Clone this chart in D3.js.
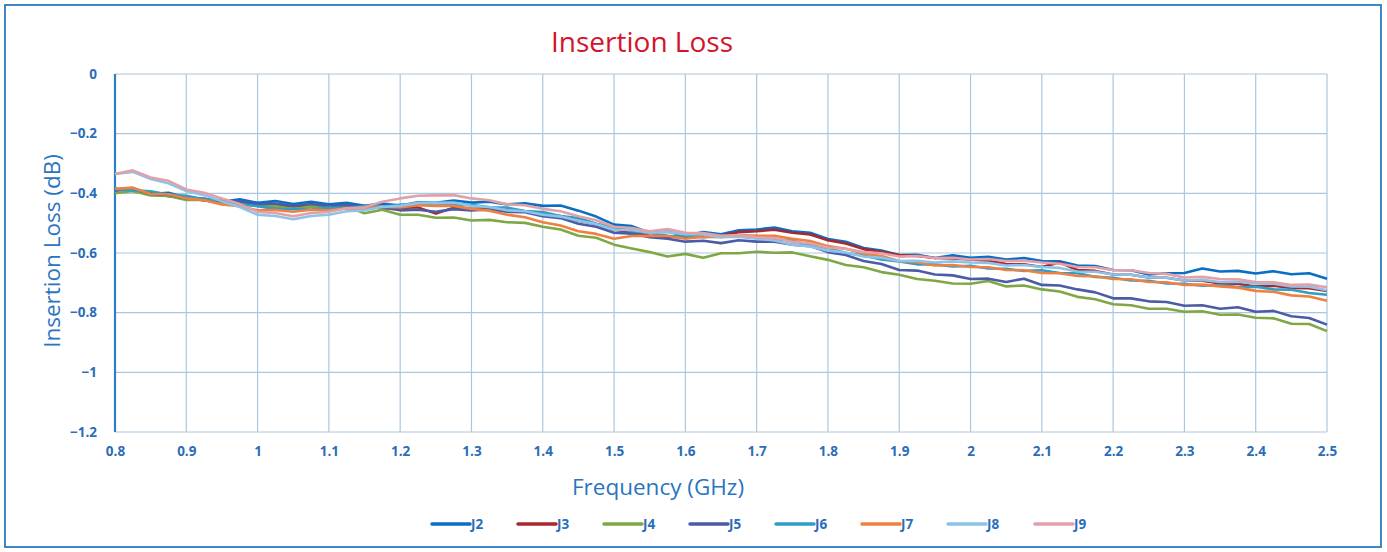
<!DOCTYPE html>
<html><head><meta charset="utf-8">
<script src="https://cdn.jsdelivr.net/npm/d3@7"></script>
<style>
html,body{margin:0;padding:0;background:#fff;}
svg{display:block;}
</style>
</head><body>
<svg id="chart" width="1387" height="552"></svg>
<script>
// ---------- DATA ----------
const freqStart = 0.8, freqStep = 0.025; // GHz, sample spacing of the arrays below
const seriesNames = ["J2","J3","J4","J5","J6","J7","J8","J9"];
const seriesColors = ["#0a6fc4","#a8282f","#7fa845","#4a5ca6","#2e9ec4","#ee8142","#8cc3e9","#e2a0a8"];
const xTicks = [0.8,0.9,1,1.1,1.2,1.3,1.4,1.5,1.6,1.7,1.8,1.9,2,2.1,2.2,2.3,2.4,2.5];
const yTicks = [0,-0.2,-0.4,-0.6,-0.8,-1,-1.2];

const J2 = [-0.390,-0.383,-0.402,-0.398,-0.415,-0.418,-0.428,-0.420,-0.432,-0.426,-0.436,-0.428,-0.437,-0.432,-0.442,-0.434,-0.441,-0.430,-0.432,-0.424,-0.431,-0.428,-0.437,-0.433,-0.442,-0.441,-0.458,-0.478,-0.505,-0.510,-0.532,-0.528,-0.542,-0.530,-0.537,-0.524,-0.521,-0.515,-0.527,-0.532,-0.553,-0.562,-0.583,-0.592,-0.607,-0.606,-0.617,-0.608,-0.616,-0.613,-0.622,-0.617,-0.627,-0.628,-0.642,-0.644,-0.657,-0.658,-0.672,-0.668,-0.667,-0.652,-0.662,-0.660,-0.669,-0.661,-0.671,-0.668,-0.686];
const J3 = [-0.385,-0.392,-0.398,-0.410,-0.413,-0.424,-0.428,-0.436,-0.438,-0.444,-0.443,-0.445,-0.443,-0.446,-0.443,-0.451,-0.448,-0.447,-0.468,-0.448,-0.452,-0.450,-0.457,-0.460,-0.472,-0.476,-0.492,-0.503,-0.522,-0.530,-0.542,-0.546,-0.547,-0.540,-0.542,-0.530,-0.527,-0.522,-0.532,-0.538,-0.557,-0.568,-0.587,-0.596,-0.607,-0.610,-0.617,-0.618,-0.622,-0.626,-0.637,-0.638,-0.647,-0.632,-0.657,-0.660,-0.672,-0.673,-0.682,-0.683,-0.692,-0.693,-0.702,-0.703,-0.712,-0.710,-0.717,-0.718,-0.727];
const J4 = [-0.400,-0.392,-0.407,-0.409,-0.422,-0.421,-0.432,-0.433,-0.442,-0.443,-0.452,-0.444,-0.447,-0.445,-0.467,-0.455,-0.472,-0.472,-0.482,-0.481,-0.491,-0.489,-0.497,-0.499,-0.512,-0.521,-0.542,-0.549,-0.572,-0.585,-0.597,-0.612,-0.603,-0.616,-0.601,-0.601,-0.596,-0.599,-0.598,-0.611,-0.623,-0.640,-0.648,-0.664,-0.673,-0.687,-0.693,-0.702,-0.703,-0.694,-0.712,-0.709,-0.722,-0.729,-0.747,-0.755,-0.772,-0.775,-0.787,-0.787,-0.797,-0.795,-0.807,-0.806,-0.817,-0.819,-0.837,-0.838,-0.862];
const J5 = [-0.390,-0.385,-0.402,-0.405,-0.417,-0.418,-0.427,-0.427,-0.437,-0.434,-0.442,-0.436,-0.442,-0.439,-0.447,-0.447,-0.457,-0.455,-0.462,-0.453,-0.457,-0.454,-0.462,-0.463,-0.477,-0.483,-0.502,-0.512,-0.532,-0.535,-0.547,-0.552,-0.562,-0.559,-0.567,-0.557,-0.562,-0.562,-0.572,-0.577,-0.597,-0.607,-0.627,-0.637,-0.657,-0.659,-0.672,-0.675,-0.687,-0.686,-0.697,-0.686,-0.707,-0.709,-0.722,-0.732,-0.752,-0.752,-0.762,-0.764,-0.777,-0.775,-0.787,-0.782,-0.797,-0.794,-0.812,-0.818,-0.840];
const J6 = [-0.385,-0.390,-0.393,-0.404,-0.408,-0.420,-0.423,-0.437,-0.443,-0.452,-0.453,-0.454,-0.448,-0.450,-0.443,-0.444,-0.438,-0.439,-0.433,-0.439,-0.438,-0.447,-0.448,-0.459,-0.463,-0.476,-0.483,-0.502,-0.513,-0.527,-0.533,-0.542,-0.543,-0.547,-0.543,-0.545,-0.543,-0.554,-0.558,-0.574,-0.583,-0.600,-0.608,-0.622,-0.628,-0.638,-0.638,-0.645,-0.643,-0.652,-0.653,-0.660,-0.658,-0.667,-0.668,-0.680,-0.683,-0.692,-0.693,-0.702,-0.703,-0.710,-0.708,-0.714,-0.713,-0.722,-0.723,-0.734,-0.740];
const J7 = [-0.385,-0.381,-0.402,-0.403,-0.417,-0.423,-0.437,-0.443,-0.457,-0.456,-0.462,-0.455,-0.457,-0.450,-0.452,-0.445,-0.447,-0.440,-0.442,-0.442,-0.452,-0.458,-0.472,-0.480,-0.497,-0.508,-0.527,-0.536,-0.552,-0.543,-0.542,-0.543,-0.552,-0.545,-0.547,-0.540,-0.542,-0.542,-0.552,-0.560,-0.577,-0.586,-0.602,-0.610,-0.627,-0.631,-0.642,-0.640,-0.647,-0.648,-0.657,-0.658,-0.667,-0.668,-0.677,-0.678,-0.687,-0.688,-0.697,-0.698,-0.707,-0.706,-0.712,-0.716,-0.727,-0.730,-0.742,-0.746,-0.760];
const J8 = [-0.335,-0.328,-0.352,-0.366,-0.392,-0.406,-0.427,-0.446,-0.472,-0.476,-0.487,-0.476,-0.472,-0.460,-0.457,-0.446,-0.442,-0.432,-0.432,-0.431,-0.442,-0.446,-0.457,-0.460,-0.472,-0.478,-0.492,-0.503,-0.522,-0.523,-0.532,-0.530,-0.537,-0.538,-0.547,-0.545,-0.552,-0.558,-0.572,-0.578,-0.592,-0.598,-0.612,-0.616,-0.627,-0.626,-0.632,-0.628,-0.632,-0.633,-0.642,-0.640,-0.647,-0.650,-0.662,-0.663,-0.672,-0.673,-0.682,-0.683,-0.692,-0.690,-0.697,-0.696,-0.702,-0.703,-0.712,-0.713,-0.725];
const J9 = [-0.335,-0.323,-0.347,-0.358,-0.387,-0.398,-0.417,-0.436,-0.462,-0.466,-0.477,-0.466,-0.462,-0.450,-0.447,-0.428,-0.417,-0.408,-0.407,-0.406,-0.417,-0.423,-0.437,-0.440,-0.452,-0.460,-0.477,-0.490,-0.512,-0.516,-0.527,-0.520,-0.532,-0.533,-0.542,-0.540,-0.547,-0.550,-0.562,-0.568,-0.582,-0.586,-0.597,-0.601,-0.612,-0.610,-0.617,-0.616,-0.622,-0.620,-0.627,-0.626,-0.632,-0.636,-0.647,-0.648,-0.657,-0.658,-0.667,-0.670,-0.682,-0.680,-0.687,-0.688,-0.697,-0.698,-0.707,-0.706,-0.715];
const seriesValues = [J2,J3,J4,J5,J6,J7,J8,J9];

// ---------- DRAW ----------
const svg = d3.select("#chart");
const textBlue = "#2a6db8";
const titleBlue = "#2a74c0";
const plot = {left:115, right:1327, top:74, bottom:432};

svg.append("rect").attr("x",5).attr("y",5).attr("width",1376).attr("height",542)
  .attr("fill","#fff").attr("stroke","#3f86c6").attr("stroke-width",2);

const x = d3.scaleLinear().domain([0.8,2.5]).range([plot.left, plot.right]);
const y = d3.scaleLinear().domain([-1.2,0]).range([plot.bottom, plot.top]);

// grid
const grid = svg.append("g");
grid.selectAll("line.v").data(xTicks).join("line")
  .attr("x1",d=>x(d)).attr("x2",d=>x(d)).attr("y1",plot.top).attr("y2",plot.bottom)
  .attr("stroke","#a9c8de").attr("stroke-width",1.2);
grid.selectAll("line.h").data(yTicks).join("line")
  .attr("x1",plot.left).attr("x2",plot.right).attr("y1",d=>y(d)).attr("y2",d=>y(d))
  .attr("stroke","#a9c8de").attr("stroke-width",1.2);

// axes
const xAxis = d3.axisBottom(x).tickValues(xTicks).tickSize(0).tickPadding(14).tickFormat(d3.format("~g"));
const gx = svg.append("g").attr("transform",`translate(0,${plot.bottom})`).call(xAxis);
gx.select(".domain").remove();
const yAxis = d3.axisLeft(y).tickValues(yTicks).tickSize(0).tickPadding(18).tickFormat(d3.format("~g"));
const gy = svg.append("g").attr("transform",`translate(${plot.left},0)`).call(yAxis);
gy.select(".domain").remove();
svg.selectAll(".tick text").attr("fill",textBlue).attr("font-family","'Open Sans', sans-serif")
  .attr("font-size",13.5).attr("font-weight","bold");

svg.append("line").attr("x1",plot.left).attr("x2",plot.left).attr("y1",plot.top).attr("y2",plot.bottom)
  .attr("stroke","#2f7fc8").attr("stroke-width",2.2);

// lines
const line = d3.line().x((d,i)=>x(freqStart + i*freqStep)).y(d=>y(d));
svg.append("g").selectAll("path").data(seriesValues).join("path")
  .attr("d",line).attr("fill","none")
  .attr("stroke",(d,i)=>seriesColors[i]).attr("stroke-width",2.6)
  .attr("stroke-linejoin","round");

// titles
svg.append("text").attr("x",642).attr("y",52).attr("text-anchor","middle")
  .attr("fill","#d3142c").attr("font-family","'Open Sans', sans-serif").attr("font-size",28)
  .text("Insertion Loss");
svg.append("text").attr("transform","translate(60,251) rotate(-90)").attr("text-anchor","middle")
  .attr("fill",titleBlue).attr("font-family","'Open Sans', sans-serif").attr("font-size",22.5)
  .text("Insertion Loss (dB)");
svg.append("text").attr("x",658).attr("y",495).attr("text-anchor","middle")
  .attr("fill",titleBlue).attr("font-family","'Open Sans', sans-serif").attr("font-size",22.5)
  .text("Frequency (GHz)");

// legend
const legendX = [432,518,604,690,776,862,948,1035];
const lg = svg.append("g").selectAll("g").data(seriesNames).join("g")
  .attr("transform",(d,i)=>`translate(${legendX[i]},524)`);
lg.append("line").attr("x1",0).attr("x2",38).attr("y1",0).attr("y2",0)
  .attr("stroke",(d,i)=>seriesColors[i]).attr("stroke-width",3.5).attr("stroke-linecap","round");
lg.append("text").attr("x",39).attr("y",5).attr("fill",textBlue)
  .attr("font-family","'Open Sans', sans-serif").attr("font-size",13.5).attr("font-weight","bold")
  .text(d=>d);
</script>
</body></html>
